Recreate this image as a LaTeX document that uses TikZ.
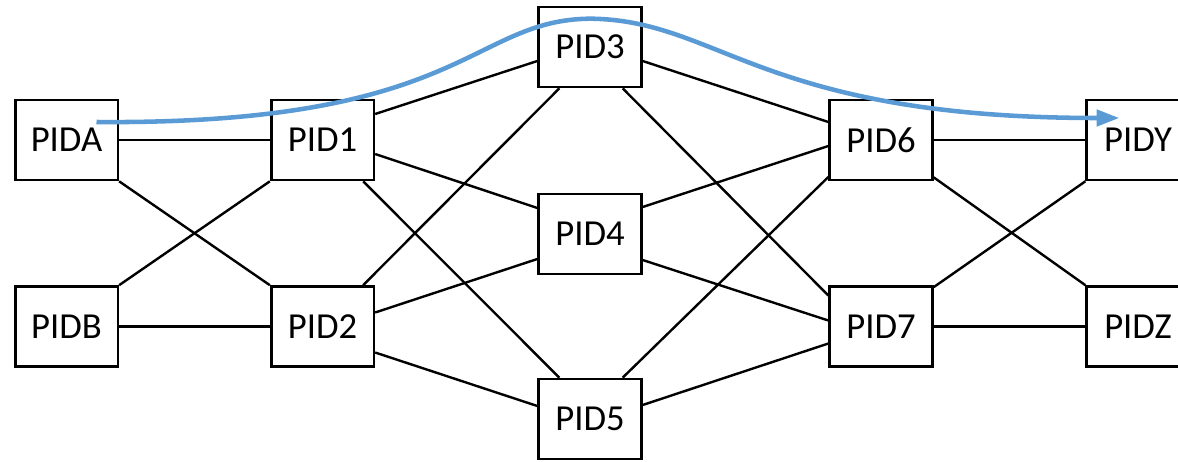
\documentclass[tikz,border=0pt]{standalone}
\usepackage{fontspec}
\setmainfont{Carlito}
\usetikzlibrary{calc,arrows.meta}
\definecolor{flowblue}{RGB}{91,155,213}
\tikzset{
  pidbox/.style={draw=black, line width=2pt, fill=white, minimum width=77pt,
    minimum height=60pt, inner sep=0pt, font=\fontsize{27.5}{30}\selectfont},
  link/.style={draw=black, line width=1.8pt},
  flow/.style={draw=flowblue, line width=3.4pt,
    -{Triangle[length=17pt, width=12pt]}}
}
\begin{document}
\begin{tikzpicture}[x=0.75pt, y=-0.75pt]
  \useasboundingbox (0,0) rectangle (1178,461);
  \clip (0,0) rectangle (1178,461);

  % switches
  \node[pidbox] (pA) at (66.5,140) {PIDA};
  \node[pidbox] (pB) at (66.5,326.5) {PIDB};
  \node[pidbox] (p1) at (322.5,140) {PID1};
  \node[pidbox] (p2) at (322.5,326.5) {PID2};
  \node[pidbox] (p3) at (590,47) {PID3};
  \node[pidbox] (p4) at (590,234) {PID4};
  \node[pidbox] (p5) at (590,419) {PID5};
  \node[pidbox] (p6) at (881,140) {PID6};
  \node[pidbox] (p7) at (881,326.5) {PID7};
  \node[pidbox] (pY) at (1138,140) {PIDY};
  \node[pidbox] (pZ) at (1138,326.5) {PIDZ};

  % first stage
  \draw[link] (pA.east) -- (p1.west);
  \draw[link] (pA.south east) -- (p2.north west);
  \draw[link] (pB.north east) -- (p1.south west);
  \draw[link] (pB.east) -- (p2.west);

  % second stage
  \draw[link] ($(p1.east)+(0,-26)$) -- ($(p3.west)+(0,14)$);
  \draw[link] ($(p1.east)+(0,14)$) -- ($(p4.west)+(0,-26)$);
  \draw[link] ($(p1.south east)+(-12,0)$) -- ($(p5.north west)+(22,0)$);
  \draw[link] ($(p2.north east)+(-12,0)$) -- ($(p3.south west)+(22,0)$);
  \draw[link] ($(p2.east)+(0,-14)$) -- ($(p4.west)+(0,25)$);
  \draw[link] ($(p2.east)+(0,26)$) -- ($(p5.west)+(0,-13)$);

  % third stage
  \draw[link] ($(p3.east)+(0,14)$) -- ($(p6.west)+(0,-18)$);
  \draw[link] ($(p3.south east)+(-20,0)$) -- ($(p7.west)+(0,-31)$);
  \draw[link] ($(p4.east)+(0,-27)$) -- ($(p6.west)+(0,6)$);
  \draw[link] ($(p4.east)+(0,26)$) -- ($(p7.west)+(0,-6)$);
  \draw[link] ($(p5.north east)+(-20,0)$) -- ($(p6.west)+(0,37)$);
  \draw[link] ($(p5.east)+(0,-14)$) -- ($(p7.west)+(0,17)$);

  % last stage
  \draw[link] (p6.east) -- (pY.west);
  \draw[link] ($(p6.south east)+(0,-4)$) -- (pZ.north west);
  \draw[link] ($(p7.north east)+(0,2)$) -- (pY.south west);
  \draw[link] (p7.east) -- (pZ.west);

  % path taken through the fabric
  \coordinate (src) at ($(pA.center)+(30,-18)$);
  \coordinate (top) at ($(p3.north)+(0,13)$);
  \coordinate (dst) at ($(pY.west)+(34,-22)$);
  \draw[flow] (src) .. controls (465,125) and (470,20) .. (top)
              .. controls (720,20) and (760,118) .. (dst);
\end{tikzpicture}
\end{document}
